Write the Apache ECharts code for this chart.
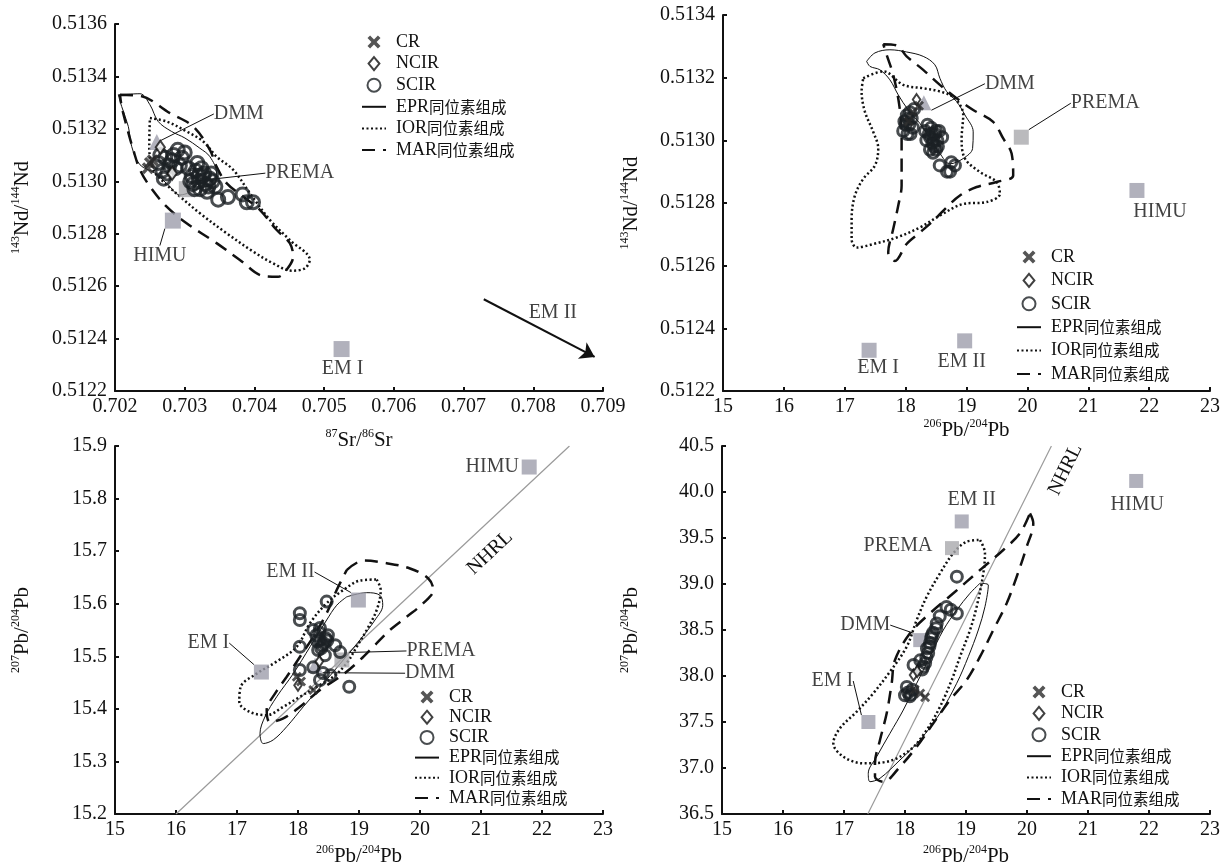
<!DOCTYPE html>
<html lang="zh">
<head>
<meta charset="UTF-8">
<title>同位素组成图解</title>
<script src="https://cdn.jsdelivr.net/npm/echarts@6/dist/echarts.min.js"></script>
<style>html,body{margin:0;padding:0;background:#fff;}</style>
</head>
<body>
<div id="main" style="width:1222px;height:866px;"></div>
<script type="text/javascript">
// ---------------- 数据 ----------------
var legendNames = ['CR', 'NCIR', 'SCIR', 'EPR同位素组成', 'IOR同位素组成', 'MAR同位素组成'];

// 图1  87Sr/86Sr - 143Nd/144Nd
var srRangeX = [0.702, 0.709, 0.001];
var srRangeY = [0.5122, 0.5136, 0.0002];
var srCR = [[0.70250, 0.51307], [0.70254, 0.51308], [0.70247, 0.51305]];
var srNCIR = [[0.70265, 0.51313], [0.70282, 0.51303]];
var srSCIR = [
    [0.70262, 0.51307], [0.70268, 0.51304], [0.70272, 0.51309], [0.70278, 0.51306], [0.70284, 0.51310],
    [0.70290, 0.51312], [0.70296, 0.51309], [0.70300, 0.51311], [0.70270, 0.51301], [0.70287, 0.51305],
    [0.70265, 0.51310], [0.70275, 0.51303], [0.70282, 0.51308], [0.70293, 0.51306],
    [0.70305, 0.51305], [0.70310, 0.51302], [0.70316, 0.51304], [0.70320, 0.51300], [0.70326, 0.51302],
    [0.70330, 0.51299], [0.70336, 0.51301], [0.70340, 0.51300], [0.70322, 0.51297], [0.70312, 0.51299],
    [0.70332, 0.51296], [0.70318, 0.51307], [0.70308, 0.51300], [0.70314, 0.51297], [0.70324, 0.51305],
    [0.70328, 0.51303], [0.70334, 0.51298], [0.70338, 0.51303], [0.70344, 0.51298], [0.70320, 0.51302],
    [0.70348, 0.51293], [0.70362, 0.51294], [0.70383, 0.51295], [0.70389, 0.51292], [0.70398, 0.51292]
];
var srEPR = [
    [0.702047, 0.513330], [0.702358, 0.513334], [0.702501, 0.513292], [0.702620, 0.513228], [0.702812, 0.513190],
    [0.703003, 0.513165], [0.703218, 0.513126], [0.703361, 0.513094], [0.703457, 0.513031], [0.703433, 0.512993],
    [0.703218, 0.512974], [0.702931, 0.512948], [0.702764, 0.512986], [0.702573, 0.513031], [0.702358, 0.513063],
    [0.702239, 0.513133], [0.702191, 0.513209], [0.702096, 0.513285], [0.702047, 0.513330]
];
var srIOR = [
    [0.702501, 0.513241], [0.702741, 0.513228], [0.703027, 0.513190], [0.703265, 0.513152], [0.703457, 0.513094],
    [0.703695, 0.513044], [0.703934, 0.512955], [0.704221, 0.512853], [0.704507, 0.512776], [0.704794, 0.512700],
    [0.704722, 0.512668], [0.704532, 0.512659], [0.704268, 0.512687], [0.703981, 0.512732], [0.703600, 0.512802],
    [0.703218, 0.512878], [0.702931, 0.512942], [0.702692, 0.512999], [0.702549, 0.513044], [0.702491, 0.513133],
    [0.702501, 0.513241]
];
var srMAR = [
    [0.702072, 0.513330], [0.702358, 0.513326], [0.702788, 0.513260], [0.703122, 0.513209], [0.703361, 0.513120],
    [0.703457, 0.513056], [0.703600, 0.512993], [0.703838, 0.512942], [0.704077, 0.512891], [0.704316, 0.512815],
    [0.704507, 0.512764], [0.704555, 0.512713], [0.704460, 0.512662], [0.704340, 0.512636], [0.704125, 0.512639],
    [0.703791, 0.512700], [0.703457, 0.512764], [0.703027, 0.512840], [0.702741, 0.512903], [0.702501, 0.512980],
    [0.702358, 0.513044], [0.702262, 0.513120], [0.702168, 0.513209], [0.702096, 0.513285], [0.702072, 0.513330]
];
var srEndNames = ['DMM', 'PREMA', 'HIMU', 'EM I'];
var srEndValues = [[0.70260, 0.51315], [0.70303, 0.51297], [0.70283, 0.51285], [0.70525, 0.51236]];
var srEM2 = [[0.70729, 0.51255], [0.70888, 0.51233]];

// 图2  206Pb/204Pb - 143Nd/144Nd
var pbNdRangeX = [15, 23, 1];
var pbNdRangeY = [0.5122, 0.5134, 0.0002];
var pbNdCR = [[18.22, 0.51311], [18.05, 0.51306], [18.12, 0.51309]];
var pbNdNCIR = [[18.18, 0.51313]];
var pbNdSCIR = [
    [17.98, 0.51306], [18.02, 0.51308], [18.06, 0.51305], [18.10, 0.51307], [18.03, 0.51302],
    [18.08, 0.51302], [18.14, 0.51310], [17.96, 0.51303], [18.12, 0.51304], [18.00, 0.51305],
    [18.04, 0.51307], [18.07, 0.51309],
    [18.32, 0.51303], [18.36, 0.51305], [18.40, 0.51301], [18.44, 0.51299], [18.48, 0.51302],
    [18.52, 0.51300], [18.45, 0.51296], [18.55, 0.51303], [18.40, 0.51297], [18.60, 0.51301],
    [18.50, 0.51297], [18.34, 0.51300], [18.38, 0.51302], [18.42, 0.51304], [18.46, 0.51300],
    [18.50, 0.51303], [18.53, 0.51298], [18.47, 0.51298], [18.43, 0.51302],
    [18.56, 0.51292], [18.68, 0.51290], [18.81, 0.51292], [18.73, 0.51290], [18.75, 0.51293]
];
var pbNdEPR = [
    [17.360, 0.513252], [17.496, 0.513279], [17.742, 0.513289], [18.016, 0.513282], [18.289, 0.513268],
    [18.481, 0.513241], [18.563, 0.513198], [18.673, 0.513156], [18.837, 0.513124], [18.974, 0.513081],
    [19.110, 0.513027], [19.100, 0.512974], [18.946, 0.512942], [18.727, 0.512925], [18.563, 0.512958],
    [18.399, 0.513006], [18.235, 0.513054], [18.043, 0.513097], [17.879, 0.513145], [17.742, 0.513193],
    [17.578, 0.513225], [17.414, 0.513236], [17.360, 0.513252]
];
var pbNdIOR = [
    [17.304, 0.513198], [17.632, 0.513220], [17.961, 0.513177], [18.289, 0.513166], [18.563, 0.513156],
    [18.810, 0.513134], [18.946, 0.513081], [18.920, 0.513006], [18.974, 0.512942], [19.220, 0.512899],
    [19.494, 0.512867], [19.548, 0.512829], [19.330, 0.512803], [18.946, 0.512797], [18.563, 0.512760],
    [18.235, 0.512722], [17.852, 0.512690], [17.468, 0.512669], [17.195, 0.512658], [17.113, 0.512685],
    [17.113, 0.512749], [17.167, 0.512824], [17.304, 0.512877], [17.496, 0.512920], [17.550, 0.512974],
    [17.468, 0.513027], [17.332, 0.513091], [17.277, 0.513156], [17.304, 0.513198]
];
var pbNdMAR = [
    [17.632, 0.513307], [17.852, 0.513303], [18.016, 0.513268], [18.289, 0.513225], [18.563, 0.513177],
    [18.837, 0.513134], [19.110, 0.513097], [19.438, 0.513059], [19.603, 0.513006], [19.741, 0.512958],
    [19.767, 0.512888], [19.494, 0.512867], [19.166, 0.512851], [18.892, 0.512824], [18.673, 0.512786],
    [18.453, 0.512743], [18.235, 0.512706], [18.016, 0.512669], [17.824, 0.512615], [17.714, 0.512642],
    [17.796, 0.512717], [17.879, 0.512792], [17.934, 0.512856], [17.934, 0.512931], [17.934, 0.513016],
    [17.895, 0.513113], [17.796, 0.513209], [17.688, 0.513273], [17.632, 0.513307]
];
var pbNdEndNames = ['DMM', 'PREMA', 'HIMU', 'EM I', 'EM II'];
var pbNdEndValues = [[18.30, 0.51312], [19.90, 0.51301], [21.80, 0.51284], [17.40, 0.51233], [18.97, 0.51236]];

// 图3  206Pb/204Pb - 207Pb/204Pb
var pb7RangeX = [15, 23, 1];
var pb7RangeY = [15.2, 15.9, 0.1];
var pb7CR = [[17.98, 15.461], [18.25, 15.436], [18.05, 15.452]];
var pb7NCIR = [[18.00, 15.445], [18.35, 15.490]];
var pb7SCIR = [
    [18.03, 15.582], [18.03, 15.569], [18.47, 15.604], [18.03, 15.518], [18.36, 15.531], [18.25, 15.550],
    [18.36, 15.554], [18.49, 15.540], [18.61, 15.521], [18.33, 15.512], [18.44, 15.502], [18.69, 15.508],
    [18.03, 15.474], [18.41, 15.468], [18.53, 15.464], [18.36, 15.455], [18.84, 15.442], [18.25, 15.479],
    [18.30, 15.540], [18.40, 15.520], [18.45, 15.535], [18.35, 15.545], [18.42, 15.525], [18.38, 15.515],
    [18.48, 15.530], [18.32, 15.528]
];
var pb7EPR = [
    [18.798, 15.613], [19.126, 15.621], [19.344, 15.616], [19.389, 15.597], [19.262, 15.569],
    [19.016, 15.531], [18.743, 15.493], [18.415, 15.448], [18.087, 15.404], [17.815, 15.366],
    [17.595, 15.341], [17.431, 15.334], [17.377, 15.353], [17.459, 15.385], [17.651, 15.423],
    [17.923, 15.467], [18.197, 15.518], [18.470, 15.569], [18.634, 15.597], [18.798, 15.613]
];
var pb7IOR = [
    [19.290, 15.646], [19.356, 15.626], [19.290, 15.588], [19.126, 15.550], [18.962, 15.518],
    [18.798, 15.487], [18.579, 15.461], [18.307, 15.442], [18.033, 15.423], [17.759, 15.404],
    [17.487, 15.388], [17.213, 15.394], [17.038, 15.413], [17.061, 15.442], [17.323, 15.467],
    [17.651, 15.490], [17.979, 15.518], [18.197, 15.563], [18.470, 15.601], [18.743, 15.626],
    [19.016, 15.644], [19.290, 15.646]
];
var pb7MAR = [
    [18.798, 15.664], [19.070, 15.682], [19.454, 15.677], [19.836, 15.667], [20.136, 15.648],
    [20.218, 15.626], [20.054, 15.601], [19.782, 15.575], [19.508, 15.550], [19.234, 15.518],
    [18.962, 15.487], [18.689, 15.461], [18.361, 15.436], [18.033, 15.404], [17.759, 15.382],
    [17.541, 15.375], [17.487, 15.398], [17.623, 15.429], [17.815, 15.461], [18.033, 15.499],
    [18.251, 15.537], [18.470, 15.582], [18.634, 15.626], [18.798, 15.664]
];
var pb7EndNames = ['DMM', 'PREMA', 'HIMU', 'EM I', 'EM II'];
var pb7EndValues = [[18.28, 15.483], [18.72, 15.493], [21.79, 15.860], [17.40, 15.470], [18.99, 15.607]];
var pb7NHRL = [[16.00, 15.20], [22.45, 15.90]];

// 图4  206Pb/204Pb - 208Pb/204Pb
var pb8RangeX = [15, 23, 1];
var pb8RangeY = [36.5, 40.5, 0.5];
var pb8CR = [[18.25, 37.81], [18.16, 37.85], [18.33, 37.77]];
var pb8NCIR = [[18.14, 38.01], [18.20, 38.05]];
var pb8SCIR = [
    [18.85, 39.08], [18.68, 38.75], [18.85, 38.68], [18.57, 38.65], [18.52, 38.57], [18.46, 38.47],
    [18.41, 38.36], [18.38, 38.25], [18.33, 38.14], [18.28, 38.07], [18.25, 38.17], [18.14, 38.12],
    [18.03, 37.88], [18.08, 37.78], [18.00, 37.79], [18.12, 37.85], [18.36, 38.30], [18.43, 38.41],
    [18.51, 38.52], [18.75, 38.72], [18.30, 38.10], [18.35, 38.20], [18.40, 38.32], [18.44, 38.44],
    [18.05, 37.82], [18.10, 37.80]
];
var pb8EPR = [
    [19.230, 39.008], [19.366, 38.989], [19.311, 38.753], [19.202, 38.500], [19.038, 38.210],
    [18.848, 37.921], [18.574, 37.595], [18.246, 37.304], [17.918, 37.087], [17.590, 36.888],
    [17.426, 36.851], [17.398, 36.942], [17.536, 37.123], [17.754, 37.377], [17.972, 37.630],
    [18.192, 37.921], [18.410, 38.210], [18.628, 38.500], [18.848, 38.717], [19.066, 38.899],
    [19.230, 39.008]
];
var pb8IOR = [
    [19.230, 39.478], [19.311, 39.334], [19.284, 39.116], [19.175, 38.753], [19.066, 38.500],
    [18.902, 38.210], [18.766, 37.957], [18.574, 37.666], [18.356, 37.413], [18.082, 37.196],
    [17.700, 37.068], [17.316, 37.051], [16.989, 37.123], [16.825, 37.268], [16.934, 37.432],
    [17.208, 37.612], [17.480, 37.812], [17.754, 38.047], [18.028, 38.318], [18.192, 38.609],
    [18.356, 38.862], [18.574, 39.116], [18.792, 39.334], [19.011, 39.460], [19.230, 39.478]
];
var pb8MAR = [
    [20.049, 39.768], [20.103, 39.660], [19.995, 39.405], [19.831, 39.079], [19.667, 38.790],
    [19.448, 38.500], [19.230, 38.210], [19.011, 37.957], [18.738, 37.739], [18.464, 37.486],
    [18.192, 37.232], [17.918, 37.014], [17.644, 36.851], [17.508, 36.905], [17.508, 37.051],
    [17.590, 37.304], [17.700, 37.595], [17.782, 37.921], [17.836, 38.174], [18.082, 38.464],
    [18.410, 38.682], [18.792, 38.899], [19.230, 39.152], [19.611, 39.370], [19.885, 39.551],
    [20.049, 39.768]
];
var pb8EndNames = ['DMM', 'PREMA', 'HIMU', 'EM I', 'EM II'];
var pb8EndValues = [[18.25, 38.39], [18.77, 39.39], [21.79, 40.12], [17.40, 37.50], [18.93, 39.68]];
var pb8NHRL = [[17.39, 36.5], [20.40, 40.5]];

// ---------------- 样式 ----------------
var font = "'Liberation Serif','Times New Roman','Noto Serif CJK SC','Noto Sans CJK SC',serif";
var cjkFont = "'Noto Sans CJK SC','Noto Serif CJK SC',sans-serif";
var ink = '#111';
var endColor = '#9d9eab';
var crPath = 'path://M0,2 L2,0 L5,3 L8,0 L10,2 L7,5 L10,8 L8,10 L5,7 L2,10 L0,8 L3,5 Z';
var ncirPath = 'path://M5,0 L10,6 L5,12 L0,6 Z';
var richSup = {
    n: {fontFamily: font, fontSize: 21, color: ink, lineHeight: 24},
    sup: {fontFamily: font, fontSize: 12, color: ink, verticalAlign: 'top', lineHeight: 24}
};
var ndName = '{sup|143}{n|Nd/}{sup|144}{n|Nd}';
var pb6Name = '{sup|206}{n|Pb/}{sup|204}{n|Pb}';
var pb7Name = '{sup|207}{n|Pb/}{sup|204}{n|Pb}';

// 每个子图：坐标范围、数据、标注偏移 [dx, dy, 是否画引线]
var panels = [
    {grid: {left: 115, top: 24, width: 488, height: 367}, rx: srRangeX, ry: srRangeY, xd: 3, yd: 4,
     xName: '{sup|87}{n|Sr/}{sup|86}{n|Sr}', yName: ndName, xGap: 37, yGap: 81,
     cr: srCR, ncir: srNCIR, scir: srSCIR, epr: srEPR, ior: srIOR, mar: srMAR,
     endNames: srEndNames, endValues: srEndValues, tri: true, endSize: 16, dot: 13,
     layout: {'DMM': [82, -28, 1], 'PREMA': [113, -16, 1], 'HIMU': [-13, 35, 1], 'EM I': [1, 20, 0]},
     legend: [356, 28, 3.6]},
    {grid: {left: 723, top: 15, width: 487, height: 376}, rx: pbNdRangeX, ry: pbNdRangeY, xd: 0, yd: 4,
     xName: pb6Name, yName: ndName, xGap: 27, yGap: 80,
     cr: pbNdCR, ncir: pbNdNCIR, scir: pbNdSCIR, epr: pbNdEPR, ior: pbNdIOR, mar: pbNdMAR,
     endNames: pbNdEndNames, endValues: pbNdEndValues, tri: true, endSize: 15, dot: 11,
     layout: {'DMM': [86, -19, 1], 'PREMA': [84, -34, 1], 'HIMU': [23, 21, 0], 'EM I': [9, 17, 0], 'EM II': [-3, 21, 0]},
     legend: [1011, 243, 5.4]},
    {grid: {left: 115, top: 446, width: 488, height: 368}, rx: pb7RangeX, ry: pb7RangeY, xd: 0, yd: 1,
     xName: pb6Name, yName: pb7Name, xGap: 30, yGap: 81,
     cr: pb7CR, ncir: pb7NCIR, scir: pb7SCIR, epr: pb7EPR, ior: pb7IOR, mar: pb7MAR,
     endNames: pb7EndNames, endValues: pb7EndValues, tri: true, endSize: 15, dot: 11,
     layout: {'DMM': [115, 8, 1], 'PREMA': [99, -9, 1], 'HIMU': [-37, 0, 0], 'EM I': [-53, -29, 1], 'EM II': [-68, -28, 1]},
     nhrl: pb7NHRL, nhrlLabel: {rotate: 43, offset: [-131, 24]},
     legend: [409, 683, 2.2]},
    {grid: {left: 722, top: 446, width: 488, height: 368}, rx: pb8RangeX, ry: pb8RangeY, xd: 0, yd: 1,
     xName: pb6Name, yName: pb7Name, xGap: 30, yGap: 79,
     cr: pb8CR, ncir: pb8NCIR, scir: pb8SCIR, epr: pb8EPR, ior: pb8IOR, mar: pb8MAR,
     endNames: pb8EndNames, endValues: pb8EndValues, tri: false, endSize: 14, dot: 11,
     layout: {'DMM': [-55, -15, 1], 'PREMA': [-54, -2, 0], 'HIMU': [1, 24, 0], 'EM I': [-36, -41, 1], 'EM II': [10, -22, 0]},
     nhrl: pb8NHRL, nhrlLabel: {rotate: 64, offset: [-15, 23]},
     legend: [1021, 678, 3.4]}
];

function makeAxis(gi, r, digits, name, gap, isY) {
    return {
        type: 'value', gridIndex: gi, min: r[0], max: r[1], interval: r[2],
        name: name, nameLocation: 'middle', nameGap: gap, nameRotate: isY ? 90 : 0,
        nameTextStyle: {fontFamily: font, fontSize: 21, color: ink, rich: richSup},
        axisLine: {show: true, onZero: false, lineStyle: {color: ink, width: 2}},
        axisTick: {show: true, inside: true, length: 4, lineStyle: {color: ink, width: 2}},
        axisLabel: {fontFamily: font, fontSize: 20, color: ink, margin: isY ? 8 : 6,
            formatter: function (v) { return v.toFixed(digits); }},
        splitLine: {show: false}
    };
}

var grids = [], xAxes = [], yAxes = [], legends = [], series = [];
var lineStyles = {
    'EPR同位素组成': {type: 'solid', width: 1},
    'IOR同位素组成': {type: [2, 2.5], width: 2.5},
    'MAR同位素组成': {type: [13, 8], width: 2.5}
};

panels.forEach(function (p, gi) {
    var g = p.grid;
    grids.push({left: g.left, top: g.top, width: g.width, height: g.height, outerBoundsMode: 'none'});
    xAxes.push(makeAxis(gi, p.rx, p.xd, p.xName, p.xGap, false));
    yAxes.push(makeAxis(gi, p.ry, p.yd, p.yName, p.yGap, true));
    legends.push({
        orient: 'vertical', left: p.legend[0], top: p.legend[1], itemGap: p.legend[2],
        itemWidth: 24, itemHeight: 13, data: legendNames, selectedMode: false,
        formatter: function (name) { return name.replace('同位素组成', '{c|同位素组成}'); },
        textStyle: {fontFamily: font, fontSize: 18, color: ink, padding: [0, 0, 0, 5],
            rich: {c: {fontFamily: cjkFont, fontSize: 15.5, color: ink}}}
    });

    // 同位素组成范围
    [['EPR同位素组成', p.epr], ['IOR同位素组成', p.ior], ['MAR同位素组成', p.mar]].forEach(function (o) {
        var ls = lineStyles[o[0]];
        series.push({
            name: o[0], type: 'line', xAxisIndex: gi, yAxisIndex: gi, data: o[1],
            smooth: 0.35, symbol: 'none', silent: true, z: 2,
            itemStyle: {color: 'rgba(0,0,0,0)', borderColor: 'rgba(0,0,0,0)'},
            lineStyle: {color: ink, width: ls.width, type: ls.type}
        });
    });

    // NHRL
    if (p.nhrl) {
        series.push({
            name: 'NHRL', type: 'line', xAxisIndex: gi, yAxisIndex: gi, z: 1, silent: true,
            symbol: 'circle', symbolSize: 1, itemStyle: {color: 'rgba(0,0,0,0)'},
            lineStyle: {color: '#9a9a9a', width: 1.2},
            data: [p.nhrl[0], {value: p.nhrl[1], label: {
                show: true, formatter: 'NHRL', position: 'inside', rotate: p.nhrlLabel.rotate,
                offset: p.nhrlLabel.offset, fontFamily: font, fontSize: 20, color: ink}}]
        });
    }

    // 端元
    var endData = p.endNames.map(function (n, i) {
        return {
            name: n, value: p.endValues[i],
            symbol: (p.tri && n === 'DMM') ? 'triangle' : 'rect',
            itemStyle: {color: n === 'PREMA' ? '#a9a9ad' : endColor},
            labelLine: {show: !!p.layout[n][2]}
        };
    });
    series.push({
        name: '端元', type: 'scatter', xAxisIndex: gi, yAxisIndex: gi, data: endData,
        symbolSize: p.endSize, z: 3, silent: true,
        label: {show: true, position: 'inside', formatter: '{b}', fontFamily: font, fontSize: 20, color: ink},
        labelLine: {show: true, lineStyle: {color: ink, width: 1}},
        labelLayout: function (params) {
            var l = p.layout[p.endNames[params.dataIndex]];
            return {dx: l[0], dy: l[1]};
        }
    });

    // 样品
    series.push({
        name: 'SCIR', type: 'scatter', xAxisIndex: gi, yAxisIndex: gi, data: p.scir, z: 4,
        symbol: 'circle', symbolSize: p.dot,
        itemStyle: {color: 'rgba(255,255,255,0)', borderColor: '#1c2024', borderWidth: 3}
    });
    series.push({
        name: 'NCIR', type: 'scatter', xAxisIndex: gi, yAxisIndex: gi, data: p.ncir, z: 4,
        symbol: ncirPath, symbolSize: [p.dot - 2, p.dot], symbolKeepAspect: true,
        itemStyle: {color: '#fff', borderColor: ink, borderWidth: 2}
    });
    series.push({
        name: 'CR', type: 'scatter', xAxisIndex: gi, yAxisIndex: gi, data: p.cr, z: 5,
        symbol: crPath, symbolSize: p.dot - 1, symbolKeepAspect: true,
        itemStyle: {color: '#2b2b2b'}
    });
});

// 图1中指向 EM II 的箭头
series.push({
    name: 'EM II', type: 'scatter', xAxisIndex: 0, yAxisIndex: 0, z: 3, silent: true,
    data: [srEM2[0]], symbolSize: 1, itemStyle: {color: 'rgba(0,0,0,0)'},
    label: {show: true, formatter: 'EM II', position: 'inside', offset: [69, 13],
        fontFamily: font, fontSize: 20, color: ink},
    markLine: {
        silent: true, symbol: ['none', 'arrow'], symbolSize: 14,
        label: {show: false}, lineStyle: {color: ink, width: 2, type: 'solid'},
        data: [[{coord: srEM2[0]}, {coord: srEM2[1]}]]
    }
});

var myChart = echarts.init(document.getElementById('main'));
myChart.setOption({
    animation: false,
    backgroundColor: '#fff',
    textStyle: {fontFamily: font},
    grid: grids,
    xAxis: xAxes,
    yAxis: yAxes,
    legend: legends,
    series: series
});
</script>
</body>
</html>
